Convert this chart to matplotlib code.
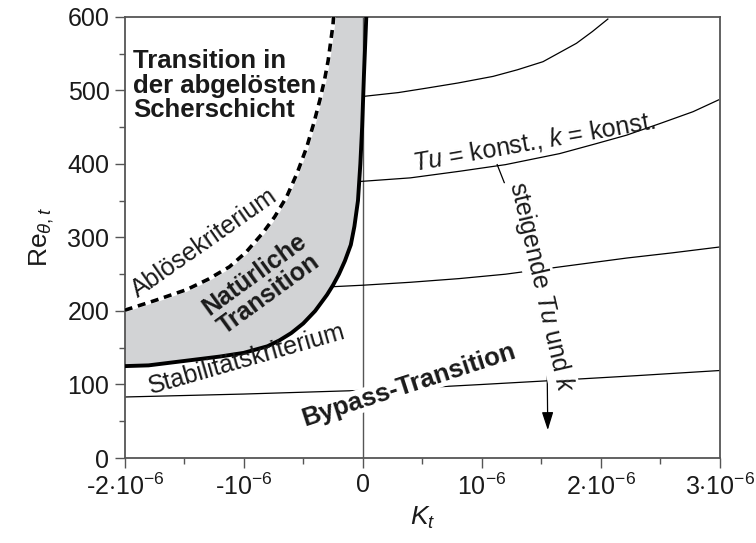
import numpy as np
import matplotlib
matplotlib.use("Agg")
import matplotlib.pyplot as plt
from matplotlib.ticker import MultipleLocator

plt.rcParams['font.family'] = ['Liberation Sans', 'DejaVu Sans']
plt.rcParams['mathtext.fontset'] = 'custom'
plt.rcParams['mathtext.rm'] = 'Liberation Sans'
plt.rcParams['mathtext.it'] = 'Liberation Sans:italic'
plt.rcParams['mathtext.bf'] = 'Liberation Sans:bold'

E = 1e-6
# Separation criterion (dashed), K in 1e-6
sep_K = [-2.0, -1.75, -1.48, -1.3, -1.12, -0.98, -0.84, -0.74, -0.64, -0.55, -0.47, -0.41, -0.36, -0.32, -0.29, -0.27, -0.25, -0.245]
sep_Re = [201, 214, 229, 243, 260, 280, 306, 328, 355, 388, 423, 456, 487, 515, 541, 565, 589, 600]
# Stability criterion (solid thick)
stab_K = [-2.0, -1.8, -1.5, -1.2, -1.0, -0.8, -0.7, -0.6, -0.5, -0.4, -0.3, -0.25, -0.2, -0.15, -0.1, -0.07, -0.04, -0.02, -0.005, 0.01, 0.03]
stab_Re = [125, 126, 132, 138, 143, 152, 160, 170, 183, 200, 222, 235, 250, 268, 290, 315, 350, 400, 450, 520, 600]
# Tu = const lines
tu1_K = [-2.0, -1.0, 0.0, 0.54, 1.0, 1.66, 2.3, 3.0]
tu1_Re = [83, 87, 92, 96, 100, 106, 112, 119]
tu2_K = [-0.25, 0.0, 0.4, 0.81, 1.2, 1.66, 2.22, 2.6, 3.0]
tu2_Re = [233, 235, 239, 244, 250, 260, 272, 279, 287]
tu3_K = [-0.03, 0.4, 0.815, 1.2, 1.655, 1.95, 2.216, 2.5, 2.776, 2.99]
tu3_Re = [376, 381, 390, 399, 414, 427, 439, 455, 471, 487]
tu4_K = [0.017, 0.3, 0.535, 0.8, 1.095, 1.3, 1.515, 1.65, 1.796, 1.93, 2.06]
tu4_Re = [492, 497, 503, 510, 519, 528, 539, 551, 564, 580, 597]
# Arrow "steigende Tu und k"
arr_K = [1.13, 1.22, 1.29, 1.37, 1.43, 1.49, 1.53, 1.55, 1.555]
arr_Re = [399, 362, 328, 290, 252, 210, 170, 120, 38]

xticks = [-2, -1, 0, 1, 2, 3]
xticklabels = [r'-2$\cdot$10$^{-6}$', r'-10$^{-6}$', '0', r'10$^{-6}$', r'2$\cdot$10$^{-6}$', r'3$\cdot$10$^{-6}$']
yticks = [0, 100, 200, 300, 400, 500, 600]

def k(v):
    return np.array(v) * E

fig = plt.figure(figsize=(7.56, 5.43), dpi=100)
ax = fig.add_axes([0.165, 0.1565, 0.787, 0.8125])
ax.set_xlim(-2 * E, 3 * E)
ax.set_ylim(0, 600)

# gray region
poly_x = np.concatenate([k(sep_K), k(stab_K)[::-1]])
poly_y = np.concatenate([sep_Re, stab_Re[::-1]])
ax.fill(poly_x, poly_y, color='#d2d3d5', lw=0, zorder=1)

# vertical line at K=0
ax.axvline(0, color='#555555', lw=1.0, zorder=1.5)

tl = dict(color='black', lw=0.9, zorder=2)
ax.plot(k(tu1_K), tu1_Re, **tl)
ax.plot(k(tu2_K), tu2_Re, **tl)
ax.plot(k(tu3_K), tu3_Re, **tl)
ax.plot(k(tu4_K), tu4_Re, **tl)

ax.plot(k(sep_K), sep_Re, color='white', lw=3.0, zorder=3, solid_capstyle='butt')
ax.plot(k(sep_K), sep_Re, color='black', lw=2.6, ls=(0, (2.2, 1.6)), zorder=3.1)
ax.plot(k(stab_K), stab_Re, color='black', lw=2.8, zorder=3)

# arrow
ax.plot(k(arr_K[:-1]), arr_Re[:-1], color='black', lw=0.9, zorder=4)
ax.annotate('', xy=(k(arr_K)[-1], arr_Re[-1]), xytext=(k(arr_K)[-2], arr_Re[-2]),
            arrowprops=dict(arrowstyle='-|>,head_length=1.1,head_width=0.35', color='black', lw=0.9,
                            shrinkA=0, shrinkB=0), zorder=4)

FS = 18
# texts
ax.text(-1.93 * E, 556, 'Transition in\nder abgelösten\nScherschicht', fontsize=18.5, fontweight='bold',
        ha='left', va='top', linespacing=1.03, zorder=5, color='#1a1a1a')
ax.text(-1.33 * E, 292, 'Ablösekriterium', fontsize=FS, rotation=35, ha='center', va='center', zorder=5,
        color='#1a1a1a')
ax.text(-0.85 * E, 236, 'Natürliche\nTransition', fontsize=18, fontweight='bold', rotation=36,
        ha='center', va='center', linespacing=1.05, zorder=5, color='#1a1a1a')
ax.text(-0.97 * E, 134, 'Stabilitätskriterium', fontsize=FS, rotation=16, ha='center', va='center', zorder=5,
        color='#1a1a1a')
ax.text(0.39 * E, 99, 'Bypass-Transition', fontsize=18.5, fontweight='bold', rotation=18,
        ha='center', va='center', zorder=5, color='#1a1a1a',
        bbox=dict(boxstyle='square,pad=0.0', fc='white', ec='none'))
ax.text(1.44 * E, 430, r'$\mathit{Tu}$ = konst., $\mathit{k}$ = konst.', fontsize=FS, rotation=10,
        ha='center', va='center', zorder=5, color='#1a1a1a')
ax.text(1.50 * E, 233, r'steigende $\mathit{Tu}$ und $\mathit{k}$', fontsize=FS, rotation=-77,
        ha='center', va='center', zorder=5, color='#1a1a1a',
        bbox=dict(boxstyle='square,pad=0.05', fc='white', ec='none'))

# axes styling
for s in ax.spines.values():
    s.set_color('#555555')
    s.set_linewidth(1.3)
ax.set_xticks(k(xticks))
ax.set_xticklabels(xticklabels)
ax.xaxis.set_minor_locator(MultipleLocator(0.5 * E))
ax.set_yticks(yticks)
ax.yaxis.set_minor_locator(MultipleLocator(50))
ax.tick_params(axis='both', which='major', direction='out', length=7, width=1.0, color='#555555',
               labelsize=FS, labelcolor='#1a1a1a', pad=4)
ax.tick_params(axis='both', which='minor', direction='out', length=4, width=1.0, color='#555555')
ax.set_xlabel(r'$K_t$', fontsize=19, labelpad=4, color='#1a1a1a')
ax.set_ylabel(r'Re$_{\theta,t}$', fontsize=19, labelpad=8, color='#1a1a1a')

fig.savefig('out.png', dpi=100)
